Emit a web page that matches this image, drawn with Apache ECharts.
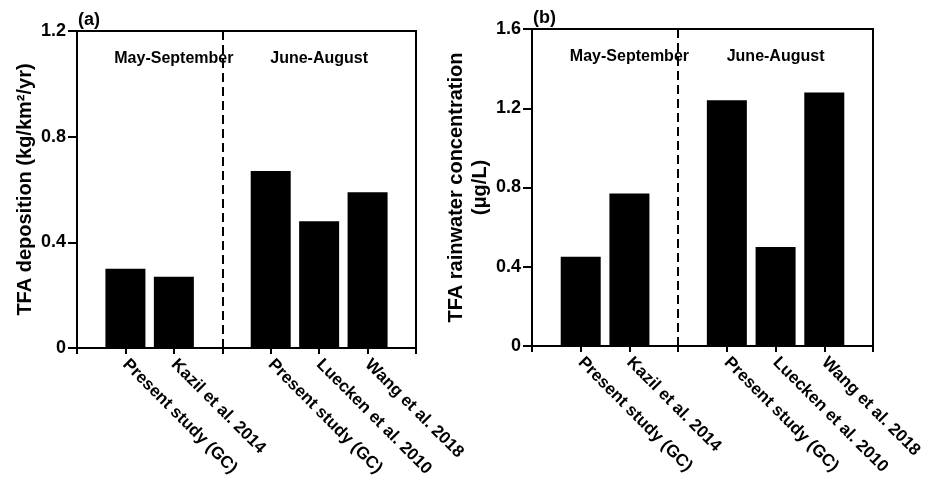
<!DOCTYPE html>
<html>
<head>
<meta charset="utf-8">
<script src="https://cdn.jsdelivr.net/npm/echarts@6/dist/echarts.min.js"></script>
<style>
  html, body { margin: 0; padding: 0; background: #fff; }
  #main { width: 930px; height: 481px; }
</style>
</head>
<body>
<div id="main"></div>
<script>
// empty slots are the axis ends and the gap between the two periods
const categories = ["", "Present study (GC)", "Kazil et al. 2014", "", "Present study (GC)", "Luecken et al. 2010", "Wang et al. 2018", ""];
const depositionValues = [null, 0.30, 0.27, null, 0.67, 0.48, 0.59, null];
const rainwaterValues = [null, 0.45, 0.77, null, 1.24, 0.50, 1.28, null];
const periods = ["May-September", "June-August"];
const periodBounds = [[0, 3], [3, 7]];
const dividerIndex = 3;

const font = "Arial, 'Liberation Sans', sans-serif";

function xAxisFor(gridIndex) {
  return {
    type: "category",
    gridIndex: gridIndex,
    data: categories,
    boundaryGap: false,
    axisLine: { lineStyle: { color: "#000", width: 2 } },
    axisTick: { length: 6, lineStyle: { color: "#000", width: 2 } },
    axisLabel: {
      interval: 0,
      rotate: -45,
      margin: 14,
      color: "#000",
      fontSize: 17,
      fontWeight: "bold",
      fontFamily: font,
    },
  };
}

function yAxisFor(gridIndex, max, name, nameGap) {
  return {
    type: "value",
    gridIndex: gridIndex,
    min: 0,
    max: max,
    interval: 0.4,
    name: name,
    nameLocation: "middle",
    nameGap: nameGap,
    nameTextStyle: { color: "#000", fontSize: 20, fontWeight: "bold", fontFamily: font, lineHeight: 24 },
    splitLine: { show: false },
    axisLine: { show: true, lineStyle: { color: "#000", width: 2 } },
    axisTick: { show: true, length: 9, lineStyle: { color: "#000", width: 2 } },
    axisLabel: {
      margin: 11,
      color: "#000",
      fontSize: 18,
      fontWeight: "bold",
      fontFamily: font,
      formatter: (v) => (v === 0 ? "0" : v.toFixed(1)),
    },
  };
}

function barSeries(index, values) {
  return {
    type: "bar",
    xAxisIndex: index,
    yAxisIndex: index,
    data: values,
    barWidth: 40,
    itemStyle: { color: "#000" },
    markLine: {
      silent: true,
      symbol: "none",
      label: { show: false },
      lineStyle: { color: "#000", width: 2, type: [9, 5] },
      data: [{ xAxis: dividerIndex }],
    },
    markArea: {
      silent: true,
      itemStyle: { color: "rgba(0,0,0,0)" },
      label: {
        show: true,
        position: "insideTop",
        distance: 20,
        color: "#000",
        fontSize: 16,
        fontWeight: "bold",
        fontFamily: font,
      },
      data: periods.map((p, i) => [
        { name: p, xAxis: periodBounds[i][0] },
        { xAxis: periodBounds[i][1] },
      ]),
    },
  };
}

function setOption(chart) {
  const option = {
    animation: false,
    title: [
      { text: "(a)", left: 78, top: 11, padding: 0, textStyle: { fontSize: 18, fontWeight: "bold", fontFamily: font, color: "#000" } },
      { text: "(b)", left: 533, top: 9, padding: 0, textStyle: { fontSize: 18, fontWeight: "bold", fontFamily: font, color: "#000" } },
    ],
    grid: [
      { left: 77, top: 31, width: 339, height: 317, show: true, borderColor: "#000", borderWidth: 2 },
      { left: 532, top: 29, width: 341, height: 317, show: true, borderColor: "#000", borderWidth: 2 },
    ],
    xAxis: [xAxisFor(0), xAxisFor(1)],
    yAxis: [
      yAxisFor(0, 1.2, "TFA deposition (kg/km²/yr)", 40),
      yAxisFor(1, 1.6, "TFA rainwater concentration\n(μg/L)", 34),
    ],
    series: [barSeries(0, depositionValues), barSeries(1, rainwaterValues)],
  };
  chart.setOption(option);
}

const chart = echarts.init(document.getElementById("main"), null, { renderer: "canvas" });
setOption(chart);
</script>
</body>
</html>
